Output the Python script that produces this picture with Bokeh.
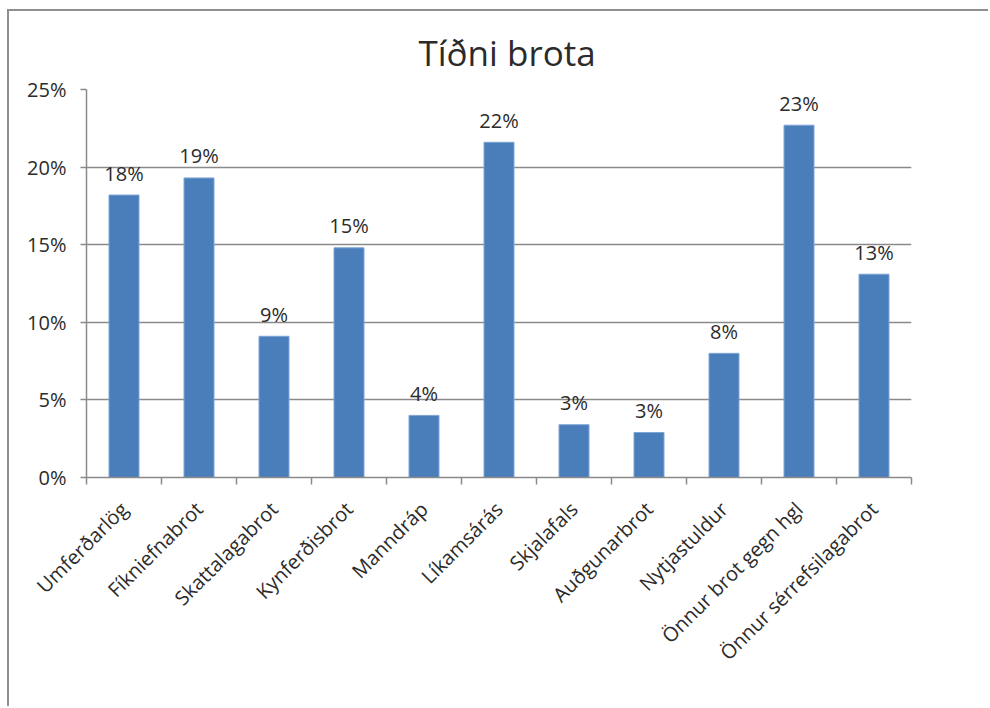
import math
from bokeh.plotting import figure
from bokeh.models import (Range1d, LinearAxis, FixedTicker, NumeralTickFormatter,
                          ColumnDataSource)
from bokeh.core.properties import value
from bokeh.embed import file_html
from bokeh.resources import INLINE

categories = ["Umferðarlög", "Fíkniefnabrot", "Skattalagabrot", "Kynferðisbrot",
              "Manndráp", "Líkamsárás", "Skjalafals", "Auðgunarbrot",
              "Nytjastuldur", "Önnur brot gegn hgl", "Önnur sérrefsilagabrot"]
shares = [0.182, 0.193, 0.091, 0.148, 0.040, 0.216, 0.034, 0.029, 0.080, 0.227, 0.131]
y_ticks = [0, 0.05, 0.10, 0.15, 0.20, 0.25]
title_text = "Tíðni brota"

n = len(categories)
centers = [i + 0.5 for i in range(n)]
labels = [f"{round(v * 100)}%" for v in shares]
src = ColumnDataSource(dict(x=centers, share=shares, label=labels))

FONT = "Open Sans"
GRAY = "#8a8a8a"
TXT = "#2b2b2b"

p = figure(x_range=Range1d(0, n), y_range=Range1d(0, 0.25),
           width=981, height=697, output_backend="svg", toolbar_location=None,
           x_axis_location=None, title=title_text,
           min_border_left=77, min_border_right=79, min_border_top=78,
           min_border_bottom=231)
p.margin = (9, 0, 0, 7)
p.styles = {"border-left": "2px solid #8f8f8f", "border-top": "2px solid #8f8f8f"}
p.outline_line_color = None
p.background_fill_color = "white"
p.border_fill_color = "white"

p.title.text_font = FONT
p.title.text_font_size = "35px"
p.title.text_font_style = "normal"
p.title.text_color = TXT
p.title.align = "left"
p.title.offset = 332
p.title.standoff = 27

p.vbar(x="x", top="share", width=0.4, source=src,
       fill_color="#4a7ebb", line_color="#7ea5d4", line_width=1)

p.text(x="x", y="share", text="label", source=src,
       text_font=value(FONT), text_font_size="20px", text_color=TXT,
       text_align="center", text_baseline="alphabetic", y_offset=-22)

# y axis
ya = p.yaxis[0]
ya.ticker = FixedTicker(ticks=y_ticks)
ya.formatter = NumeralTickFormatter(format="0%")
ya.axis_line_color = GRAY
ya.axis_line_width = 1.5
ya.major_tick_line_color = GRAY
ya.major_tick_line_width = 1.5
ya.major_tick_out = 6
ya.major_tick_in = 0
ya.minor_tick_line_color = None
ya.major_label_text_font = FONT
ya.major_label_text_font_size = "20px"
ya.major_label_text_color = TXT
ya.major_label_standoff = 14

p.ygrid.ticker = FixedTicker(ticks=y_ticks)
p.ygrid.grid_line_color = GRAY
p.ygrid.grid_line_width = 1.5
for g in p.xgrid:
    g.visible = False

# x axis: ticks at category boundaries (no labels)
tick_axis = LinearAxis(ticker=FixedTicker(ticks=list(range(n + 1))))
tick_axis.axis_line_color = GRAY
tick_axis.axis_line_width = 1.5
tick_axis.major_tick_line_color = GRAY
tick_axis.major_tick_line_width = 1.5
tick_axis.major_tick_out = 7
tick_axis.major_tick_in = 0
tick_axis.minor_tick_line_color = None
tick_axis.major_label_text_color = None
tick_axis.major_label_text_font_size = "1px"
tick_axis.major_label_standoff = 0
p.add_layout(tick_axis, "below")

# x axis: category names at centres
cat_axis = LinearAxis(ticker=FixedTicker(ticks=centers))
cat_axis.major_label_overrides = {c: name for c, name in zip(centers, categories)}
cat_axis.axis_line_color = None
cat_axis.major_tick_line_color = None
cat_axis.minor_tick_line_color = None
cat_axis.major_label_orientation = math.pi / 4
cat_axis.major_label_text_font = FONT
cat_axis.major_label_text_font_size = "20px"
cat_axis.major_label_text_color = TXT
cat_axis.major_label_standoff = 15
p.add_layout(cat_axis, "below")

open("out.html", "w").write(file_html(p, INLINE))
